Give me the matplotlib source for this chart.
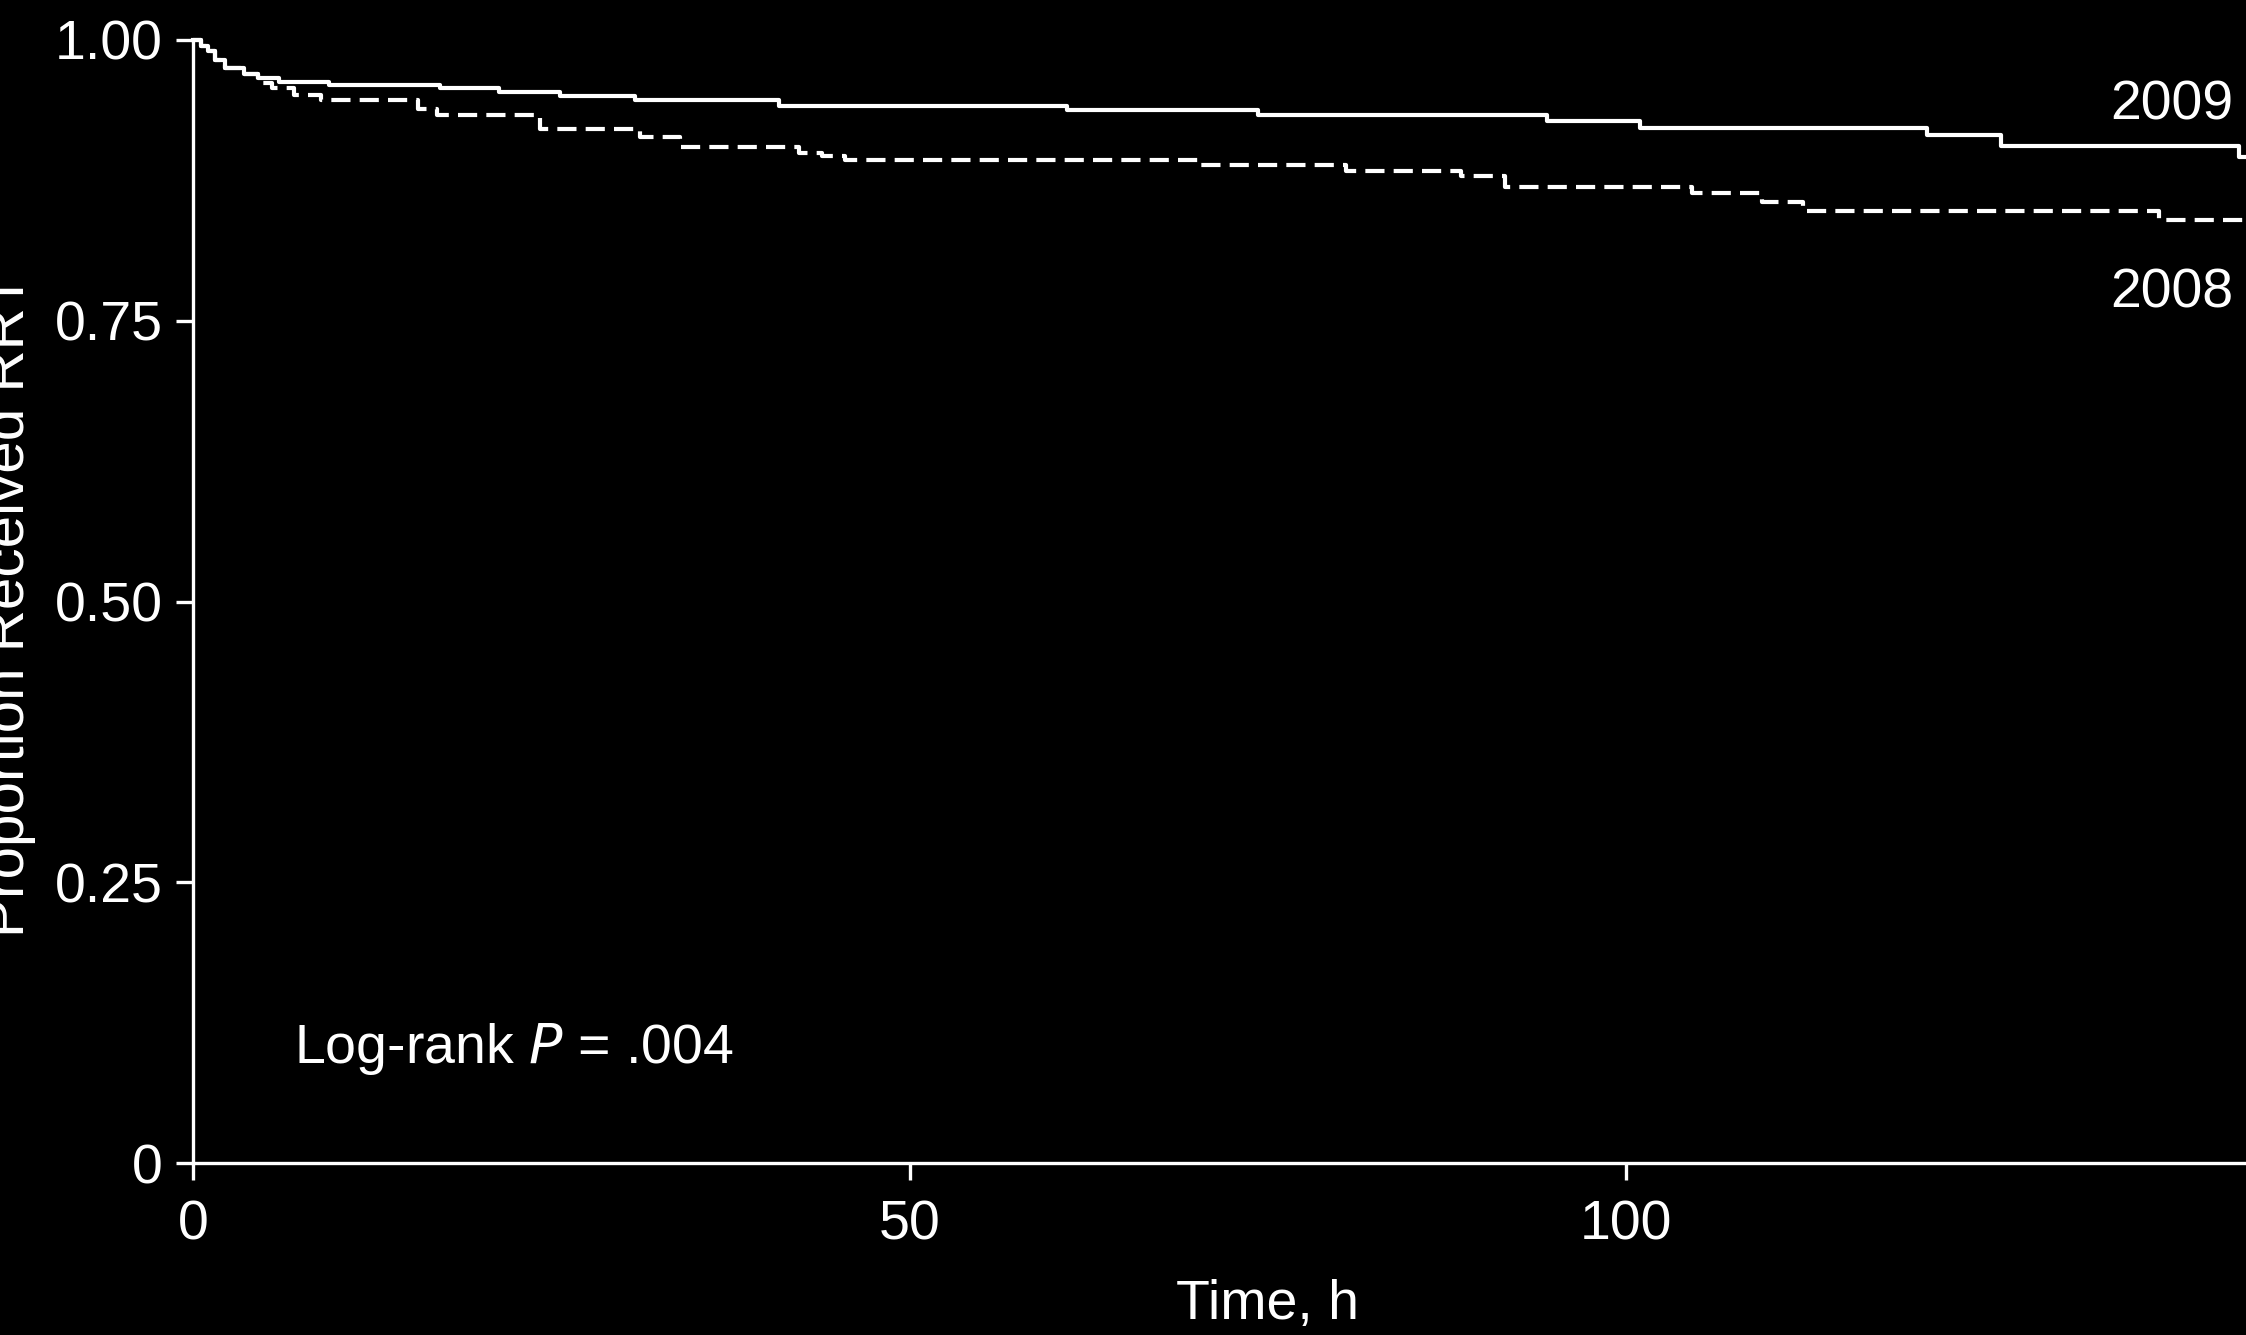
import matplotlib
matplotlib.use("Agg")
import matplotlib.pyplot as plt

# ---- data ----
t_2009 = [0, 0.5, 1.0, 1.5, 2.2, 3.5, 4.5, 6.0, 9.5, 17.2, 21.3, 25.6, 30.8, 40.9,
          61.0, 74.3, 94.5, 101.0, 121.0, 126.2, 142.8, 145]
s_2009 = [1.0, 0.995, 0.990, 0.982, 0.975, 0.970, 0.966, 0.963, 0.960, 0.957, 0.954,
          0.950, 0.947, 0.941, 0.938, 0.933, 0.928, 0.922, 0.915, 0.906, 0.896, 0.896]

t_2008 = [0, 0.5, 1.0, 1.5, 2.2, 3.5, 4.5, 5.5, 7.0, 8.9, 15.7, 17.0, 24.2, 31.2, 34.0,
          42.3, 43.9, 45.5, 70.1, 80.5, 88.5, 91.6, 104.6, 109.5, 112.4, 137.2, 145]
s_2008 = [1.0, 0.995, 0.990, 0.982, 0.975, 0.970, 0.962, 0.957, 0.951, 0.947, 0.939,
          0.933, 0.921, 0.914, 0.905, 0.899, 0.897, 0.893, 0.889, 0.883, 0.879, 0.869,
          0.864, 0.856, 0.848, 0.840, 0.840]

x_ticks = [0, 50, 100]
x_ticklabels = ["0", "50", "100"]
y_ticks = [0, 0.25, 0.50, 0.75, 1.00]
y_ticklabels = ["0", "0.25", "0.50", "0.75", "1.00"]

FS = 40
plt.rcParams["font.family"] = ["Liberation Sans", "DejaVu Sans"]

W, H = 2246, 1335
fig = plt.figure(figsize=(W / 100, H / 100), dpi=100, facecolor="black")
x0, xr = 193.4, 14.324          # px of x=0, px per hour
ytop, ybot = 40, 1163
ax = fig.add_axes([x0 / W, 1 - ybot / H, 150 * xr / W, (ybot - ytop) / H])
ax.set_facecolor("black")

LW = 3.0
ax.step(t_2009, s_2009, where="post", color="white", lw=LW, clip_on=False)
ax.step(t_2008, s_2008, where="post", color="white", lw=LW, clip_on=False,
        linestyle=(0, (4.6, 2.2)))

ax.set_xlim(0, 150)
ax.set_ylim(0, 1)
for sp in ["top", "right"]:
    ax.spines[sp].set_visible(False)
for sp in ["left", "bottom"]:
    ax.spines[sp].set_color("white")
    ax.spines[sp].set_linewidth(2.4)

ax.set_xticks(x_ticks)
ax.set_xticklabels(x_ticklabels)
ax.set_yticks(y_ticks)
ax.set_yticklabels(y_ticklabels)
ax.tick_params(axis="both", direction="out", length=12, width=2.4, colors="white",
               labelsize=FS)
ax.tick_params(axis="y", pad=10)
ax.tick_params(axis="x", pad=14)

ax.set_xlabel("Time, h", fontsize=FS, color="white", labelpad=20)

fig.text(36 / W, 1 - 605 / H, "Proportion Received RRT", rotation=90, ha="right",
         va="center", fontsize=42, color="white")

ax.text(142.4, 0.9288, "2009", ha="right", va="baseline", fontsize=FS, color="white")
ax.text(142.4, 0.7622, "2008", ha="right", va="baseline", fontsize=FS, color="white")
ax.text(7.0, 0.089, r"Log-rank $\it{P}$ = .004", ha="left", va="baseline",
        fontsize=FS, color="white")

fig.savefig("out.png", dpi=100, facecolor="black")
